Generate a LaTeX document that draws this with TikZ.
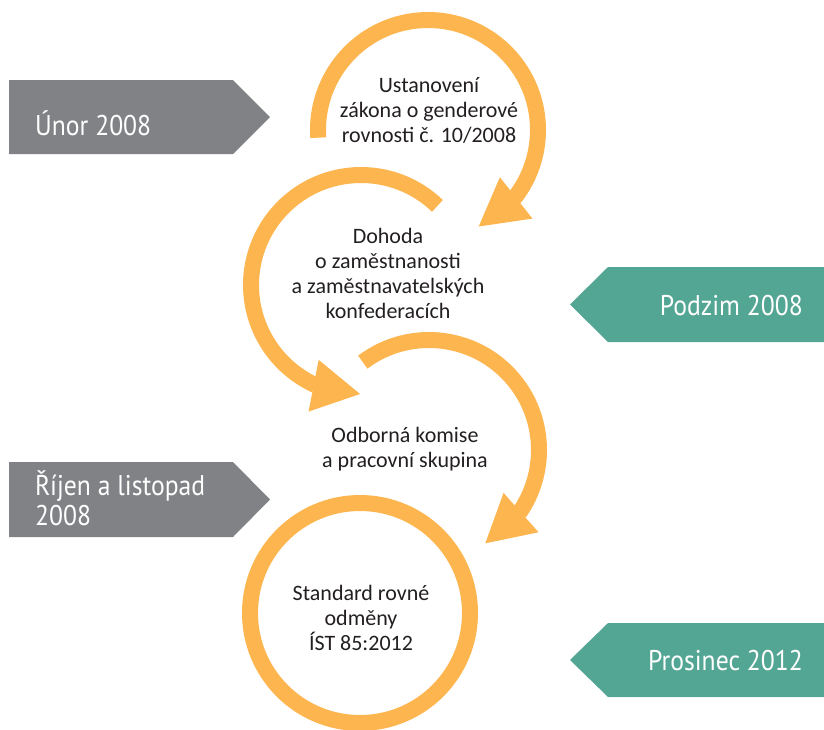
\documentclass[tikz,border=0pt]{standalone}
\usepackage{fontspec}
\setmainfont{Carlito}
\newfontfamily\tagfont[FakeStretch=0.9]{PT Sans}
\usetikzlibrary{calc}
\definecolor{ringc}{HTML}{FDB64F}
\definecolor{taggray}{HTML}{808285}
\definecolor{taggreen}{HTML}{54A694}
\definecolor{ink}{HTML}{231F20}
\tikzset{
  ringline/.style={draw=ringc, line width=16pt},
  ringhead/.style={fill=ringc},
  graytag/.style={fill=taggray},
  greentag/.style={fill=taggreen},
  tagtext/.style={text=white, inner sep=0pt, font=\tagfont\fontsize{28.5}{30}\selectfont, align=left},
  ringtext/.style={text=ink, inner sep=0pt, font=\fontsize{22}{25}\selectfont, align=center},
}
\newcommand\ringarrow[4]{% #1 centre, #2 start angle, #3 tip angle, #4 direction
  \pgfmathsetmacro\rEnd{#3-#4*24}%
  \pgfmathsetmacro\rIn{#3-#4*29}%
  \pgfmathsetmacro\rOut{#3-#4*22}%
  \begin{scope}[shift={(#1)}]
    \draw[ringline] (#2:110) arc[start angle=#2, end angle=\rEnd, radius=110];
    \fill[ringhead] (#3:109) -- (\rIn:86) -- (\rOut:137) -- cycle;
  \end{scope}}
\begin{document}
\begin{tikzpicture}[x=1pt,y=-1pt]
\useasboundingbox (0,0) rectangle (824,729);
% circle centres
\coordinate (c1) at (428,130);
\coordinate (c2) at (361,285);
\coordinate (c3) at (429,450);
\coordinate (c4) at (360,613);
% tags
\fill[graytag] (9,80) -- (233,80) -- (270,117) -- (233,154) -- (9,154) -- cycle;
\fill[greentag] (824,267) -- (608,267) -- (570,304.5) -- (608,342) -- (824,342) -- cycle;
\fill[graytag] (9,462) -- (233,462) -- (270,499.5) -- (233,537) -- (9,537) -- cycle;
\fill[greentag] (824,623) -- (608,623) -- (570,660) -- (608,697) -- (824,697) -- cycle;
\node[tagtext, anchor=base west] (t1) at (35,135) {Únor 2008};
\node[tagtext, anchor=base east] (t2) at (803,315) {Podzim 2008};
\node[tagtext, anchor=base west] (t3) at (35,525) {Říjen a listopad\\2008};
\node[tagtext, anchor=base east] (t4) at (803,670) {Prosinec 2012};
% rings
\ringarrow{c1}{176}{422.3}{1}
\ringarrow{c2}{314}{90.5}{-1}
\ringarrow{c3}{233}{418.9}{1}
\draw[ringline] (c4) circle[radius=110];
% ring texts (anchor=base is the last line's baseline)
\node[ringtext, anchor=base] (r1) at (429,142.5) {Ustanovení\\zákona o genderové\\rovnosti č. 10/2008};
\node[ringtext, anchor=base] (r2) at (388,318) {Dohoda\\o zaměstnanosti\\a zaměstnavatelských\\konfederacích};
\node[ringtext, anchor=base] (r3) at (405,467) {Odborná komise\\a pracovní skupina};
\node[ringtext, anchor=base] (r4) at (361,650) {Standard rovné\\odměny\\ÍST 85:2012};
\end{tikzpicture}
\end{document}
